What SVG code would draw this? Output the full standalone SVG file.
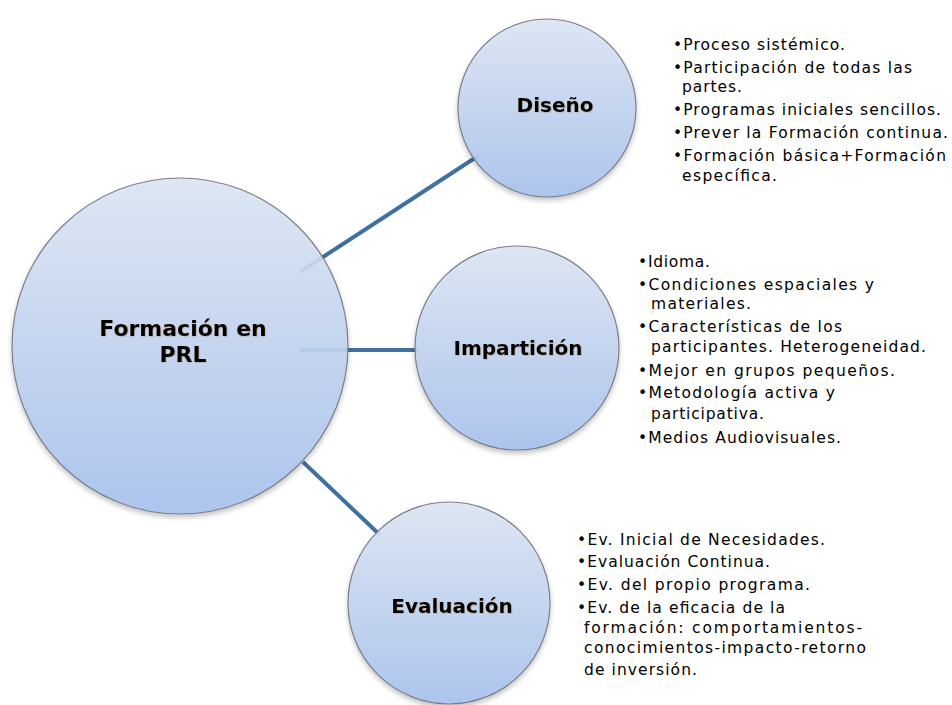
<svg xmlns="http://www.w3.org/2000/svg" width="952" height="705" viewBox="0 0 952 705">
<defs>
<linearGradient id="g" x1="0" y1="0" x2="0" y2="1">
<stop offset="0" stop-color="#dde6f4"/>
<stop offset="1" stop-color="#a8c2ee"/>
</linearGradient>
<filter id="sh" x="-10%" y="-10%" width="125%" height="125%">
<feDropShadow dx="0" dy="3" stdDeviation="2.5" flood-color="#000" flood-opacity="0.25"/>
</filter>
<filter id="ts" x="-10%" y="-20%" width="120%" height="150%">
<feDropShadow dx="0.6" dy="0.6" stdDeviation="0.5" flood-color="#8a5a20" flood-opacity="0.4"/>
</filter>
</defs>
<style>
.node{fill:url(#g);fill-opacity:0.9;stroke:#7a7f88;stroke-width:1.2;filter:url(#sh)}
.lbl{font-family:"DejaVu Sans","Verdana",sans-serif;font-weight:bold;fill:#000;text-anchor:middle;filter:url(#ts)}
.con{stroke:#40709f;stroke-width:4;fill:none}
.txt{font-family:"DejaVu Sans","Verdana",sans-serif;font-size:15.5px;fill:#000}
</style>
<rect width="952" height="705" fill="#fff"/>
<g id="connectors">
<line class="con" x1="300" y1="272" x2="478" y2="156"/>
<line class="con" x1="300" y1="350" x2="418" y2="350"/>
<line class="con" x1="303" y1="462" x2="380" y2="535"/>
</g>
<g id="node-formacion">
<circle class="node" cx="180" cy="346" r="168"/>
<text class="lbl" font-size="22" x="183" y="336">Formación en</text>
<text class="lbl" font-size="22" x="183" y="362">PRL</text>
</g>
<g id="node-diseno">
<circle class="node" cx="547" cy="108" r="89"/>
<text class="lbl" font-size="20" x="555" y="112">Diseño</text>
</g>
<g id="node-imparticion">
<circle class="node" cx="517" cy="348" r="102"/>
<text class="lbl" font-size="20" x="518" y="355">Impartición</text>
</g>
<g id="node-evaluacion">
<circle class="node" cx="449" cy="603" r="101"/>
<text class="lbl" font-size="20" x="452" y="613">Evaluación</text>
</g>
<g id="text-diseno" class="txt">
<text x="673" y="50" textLength="172" lengthAdjust="spacing">•Proceso sistémico.</text>
<text x="673" y="73" textLength="239" lengthAdjust="spacing">•Participación de todas las</text>
<text x="682" y="92" textLength="60" lengthAdjust="spacing">partes.</text>
<text x="673" y="115" textLength="268" lengthAdjust="spacing">•Programas iniciales  sencillos.</text>
<text x="673" y="138" textLength="275" lengthAdjust="spacing">•Prever la Formación continua.</text>
<text x="673" y="161" textLength="273" lengthAdjust="spacing">•Formación básica+Formación</text>
<text x="682" y="181" textLength="95" lengthAdjust="spacing">específica.</text>
</g>
<g id="text-imparticion" class="txt">
<text x="638" y="267" textLength="72" lengthAdjust="spacing">•Idioma.</text>
<text x="638" y="290" textLength="236" lengthAdjust="spacing">•Condiciones espaciales y</text>
<text x="651" y="309" textLength="100" lengthAdjust="spacing">materiales.</text>
<text x="638" y="332" textLength="204" lengthAdjust="spacing">•Características de los</text>
<text x="651" y="352" textLength="275" lengthAdjust="spacing">participantes. Heterogeneidad.</text>
<text x="638" y="376" textLength="257" lengthAdjust="spacing">•Mejor en grupos pequeños.</text>
<text x="638" y="398" textLength="197" lengthAdjust="spacing">•Metodología activa y</text>
<text x="651" y="419" textLength="113" lengthAdjust="spacing">participativa.</text>
<text x="638" y="443" textLength="203" lengthAdjust="spacing">•Medios Audiovisuales.</text>
</g>
<g id="text-evaluacion" class="txt">
<text x="577" y="545" textLength="248" lengthAdjust="spacing">•Ev. Inicial de Necesidades.</text>
<text x="577" y="567" textLength="193" lengthAdjust="spacing">•Evaluación Continua.</text>
<text x="577" y="590" textLength="233" lengthAdjust="spacing">•Ev. del propio programa.</text>
<text x="577" y="613" textLength="208" lengthAdjust="spacing">•Ev. de la eficacia de la</text>
<text x="584" y="633" textLength="278" lengthAdjust="spacing">formación: comportamientos-</text>
<text x="584" y="653" textLength="282" lengthAdjust="spacing">conocimientos-impacto-retorno</text>
<text x="584" y="675" textLength="113" lengthAdjust="spacing">de inversión.</text>
</g>
</svg>
